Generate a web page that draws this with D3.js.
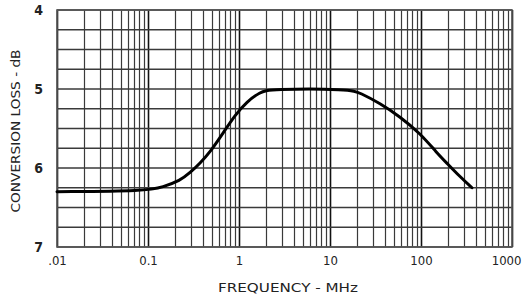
<!DOCTYPE html>
<html><head><meta charset="utf-8">
<script src="https://cdn.jsdelivr.net/npm/d3@7"></script>
<style>
html,body{margin:0;padding:0;background:#fff;}
svg{display:block;}
text{font-family:"Liberation Sans Narrow","DejaVu Sans Condensed","Liberation Sans",sans-serif;fill:#222;}
</style></head>
<body>
<svg id="chart" width="522" height="299"></svg>
<script>
// Data
const freqMHz = [0.01, 0.097, 0.146, 0.225, 0.29, 0.373, 0.48, 0.667, 0.904, 1.22, 1.70, 2.19, 16.6, 21.4, 35.4, 58.8, 97.5, 150, 193, 268, 363];
const lossDb  = [6.30, 6.29, 6.24, 6.16, 6.06, 5.94, 5.80, 5.56, 5.33, 5.16, 5.04, 5.00, 5.00, 5.05, 5.18, 5.35, 5.56, 5.81, 5.94, 6.11, 6.25];
const xTickValues = [0.01, 0.1, 1, 10, 100, 1000];
const xTickLabels = [".01", "0.1", "1", "10", "100", "1000"];
const yTickValues = [4, 5, 6, 7];
const yTickLabels = ["4", "5", "6", "7"];
const xTitle = "FREQUENCY - MHz";
const yTitle = "CONVERSION LOSS - dB";

const svg = d3.select("#chart");
const L = 57, R = 512, T = 10, B = 247;
const x = d3.scaleLog().domain([0.01, 1000]).range([L, R]);
const y = d3.scaleLinear().domain([4, 7]).range([T, B]);

svg.append("rect").attr("width", 522).attr("height", 299).attr("fill", "#fff");

// vertical log grid
const vGrid = [];
[0.01, 0.1, 1, 10, 100].forEach(d => { for (let k = 1; k <= 9; k++) vGrid.push(k * d); });
vGrid.push(1000);
svg.append("g").selectAll("line").data(vGrid).join("line")
  .attr("x1", d => Math.round(x(d)) + 0.5).attr("x2", d => Math.round(x(d)) + 0.5)
  .attr("y1", T).attr("y2", B)
  .attr("stroke", (d, i) => (i % 9 === 0) ? "#111" : "#3a3a3a")
  .attr("stroke-width", (d, i) => (i % 9 === 0) ? 1.6 : 1.2);

// horizontal grid every 0.25 dB
const hGrid = d3.range(4, 7.001, 0.25);
svg.append("g").selectAll("line").data(hGrid).join("line")
  .attr("x1", L).attr("x2", R)
  .attr("y1", d => y(d)).attr("y2", d => y(d))
  .attr("stroke", "#3a3a3a").attr("stroke-width", 1.7);

// frame
svg.append("rect").attr("x", L).attr("y", T).attr("width", R - L).attr("height", B - T)
  .attr("fill", "none").attr("stroke", "#555").attr("stroke-width", 1.6);

// curve
const pts = freqMHz.map((f, i) => [f, lossDb[i]]);
svg.append("path").datum(pts)
  .attr("fill", "none").attr("stroke", "#000").attr("stroke-width", 3)
  .attr("stroke-linejoin", "round").attr("stroke-linecap", "round")
  .attr("d", d3.line().x(d => x(d[0])).y(d => y(d[1])).curve(d3.curveBasis));

// axes (labels only)
const xAxis = d3.axisBottom(x).tickValues(xTickValues)
  .tickFormat((d, i) => xTickLabels[i]).tickSize(0).tickPadding(9);
const gx = svg.append("g").attr("transform", `translate(0,${B})`).call(xAxis);
gx.select(".domain").remove();
gx.selectAll("text").attr("font-size", 13).attr("fill", "#222")
  .style("font-family", '"Liberation Sans Narrow","DejaVu Sans Condensed",sans-serif');
gx.selectAll("text").filter((d, i) => i === xTickValues.length - 1)
  .attr("text-anchor", "end").attr("x", 521 - x(1000));

const yAxis = d3.axisLeft(y).tickValues(yTickValues)
  .tickFormat((d, i) => yTickLabels[i]).tickSize(0).tickPadding(14);
const gy = svg.append("g").attr("transform", `translate(${L},0)`).call(yAxis);
gy.select(".domain").remove();
gy.selectAll("text").attr("font-size", 14).attr("font-weight", "bold").attr("fill", "#222")
  .style("font-family", '"Liberation Sans Narrow","DejaVu Sans Condensed",sans-serif');

// titles
svg.append("text").attr("x", 288).attr("y", 292).attr("text-anchor", "middle")
  .attr("font-size", 12).attr("textLength", 140).attr("lengthAdjust", "spacingAndGlyphs")
  .text(xTitle);
svg.append("text").attr("transform", "translate(20,131) rotate(-90)").attr("text-anchor", "middle")
  .attr("font-size", 13).attr("textLength", 163).attr("lengthAdjust", "spacingAndGlyphs")
  .text(yTitle);
</script>
</body></html>
